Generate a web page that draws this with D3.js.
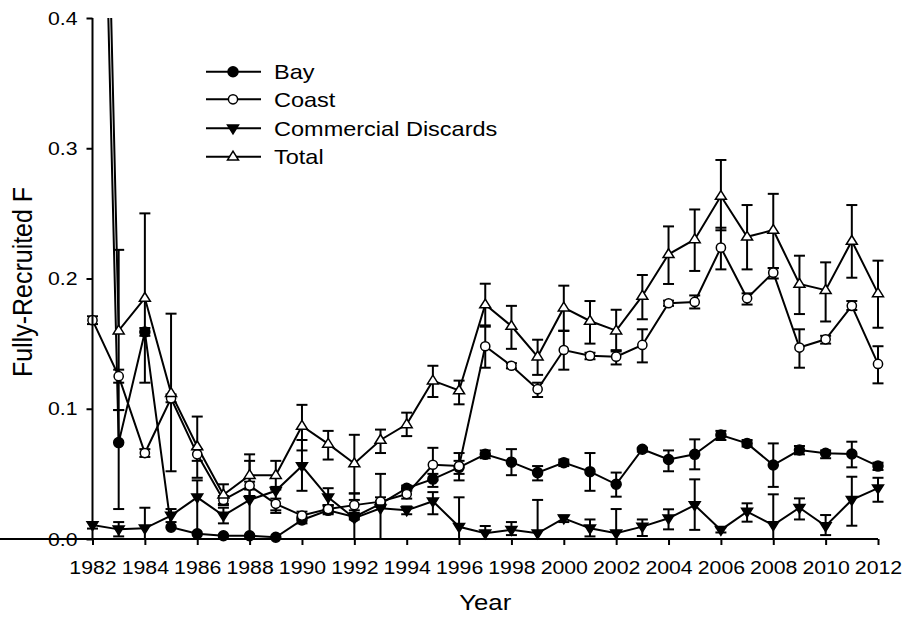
<!DOCTYPE html>
<html>
<head>
<meta charset="utf-8">
<script src="https://cdn.jsdelivr.net/npm/d3@7/dist/d3.min.js"></script>
<style>
  html, body { margin: 0; padding: 0; background: #fff; }
  text { font-family: "Liberation Sans", Arial, sans-serif; fill: #000; }
</style>
</head>
<body>
<svg id="chart" width="903" height="622"></svg>
<script>
const years = d3.range(1982, 2013);
const xTickYears = d3.range(1982, 2013, 2);
const yTicks = [0.0, 0.1, 0.2, 0.3, 0.4];

const seriesNames = ["Bay", "Coast", "Commercial Discards", "Total"];

const bayValues = [0.90, 0.074, 0.159, 0.009, 0.004, 0.0025, 0.0025, 0.0013, 0.0146, 0.022,
  0.017, 0.027, 0.039, 0.046, 0.055, 0.065, 0.059, 0.051, 0.0586, 0.0517,
  0.042, 0.0689, 0.061, 0.065, 0.0798, 0.0734, 0.0568, 0.0683, 0.0658, 0.0653, 0.056];
const bayLow = [null, 0.023, 0.156, null, null, null, null, null, 0.012, 0.020,
  0.015, 0.025, 0.037, 0.040, 0.050, 0.062, 0.049, 0.045, 0.056, 0.037,
  0.0325, 0.067, 0.052, 0.0535, 0.076, 0.071, 0.040, 0.065, 0.062, 0.055, 0.053];
const bayHigh = [null, 0.099, 0.162, null, null, null, null, null, 0.017, 0.025,
  0.020, 0.029, 0.041, 0.050, 0.060, 0.068, 0.069, 0.056, 0.061, 0.066,
  0.051, 0.070, 0.068, 0.0765, 0.083, 0.076, 0.0734, 0.0714, 0.068, 0.0747, 0.0586];

const coastValues = [0.168, 0.125, 0.066, 0.108, 0.065, 0.030, 0.041, 0.027, 0.018, 0.023,
  0.026, 0.0287, 0.0345, 0.057, 0.056, 0.148, 0.133, 0.115, 0.1451, 0.1407,
  0.140, 0.149, 0.181, 0.182, 0.2237, 0.1848, 0.2045, 0.147, 0.1533, 0.179, 0.1344];
const coastLow = [0.165, 0.120, 0.063, 0.105, 0.060, 0.027, 0.038, 0.022, 0.016, 0.019,
  0.022, 0.025, 0.031, 0.045, 0.045, 0.1315, 0.131, 0.109, 0.130, 0.138,
  0.134, 0.1356, 0.179, 0.177, 0.207, 0.180, 0.200, 0.1315, 0.150, 0.1758, 0.1195];
const coastHigh = [0.171, 0.130, 0.069, 0.111, 0.069, 0.033, 0.044, 0.031, 0.021, 0.026,
  0.030, 0.032, 0.038, 0.070, 0.066, 0.164, 0.135, 0.120, 0.160, 0.143,
  0.145, 0.161, 0.183, 0.187, 0.239, 0.1886, 0.208, 0.161, 0.156, 0.1827, 0.148];

const commValues = [0.0107, 0.0074, 0.0082, 0.018, 0.032, 0.018, 0.030, 0.037, 0.056, 0.032,
  0.016, 0.0236, 0.022, 0.029, 0.0094, 0.0044, 0.007, 0.0044, 0.0159, 0.0082,
  0.0044, 0.0095, 0.0159, 0.026, 0.007, 0.021, 0.0107, 0.024, 0.010, 0.030, 0.039];
const commLow = [0.008, 0.002, 0.0, 0.013, 0.0, 0.012, 0.0, 0.020, 0.037, 0.026,
  0.0, 0.0, 0.019, 0.019, 0.0, 0.0, 0.003, 0.0, 0.013, 0.002,
  0.0, 0.0023, 0.0074, 0.007, 0.005, 0.0133, 0.0, 0.015, 0.003, 0.0102, 0.0286];
const commHigh = [0.013, 0.013, 0.024, 0.023, 0.045, 0.024, 0.060, 0.040, 0.076, 0.039,
  0.035, 0.050, 0.025, 0.036, 0.032, 0.010, 0.013, 0.030, 0.018, 0.015,
  0.023, 0.015, 0.0228, 0.0458, 0.009, 0.0274, 0.0343, 0.0312, 0.0184, 0.0478, 0.047];

const totalValues = [1.0, 0.160, 0.185, 0.112, 0.071, 0.034, 0.049, 0.049, 0.0868, 0.073,
  0.058, 0.076, 0.088, 0.1216, 0.114, 0.180, 0.1635, 0.140, 0.1776, 0.1674,
  0.160, 0.1866, 0.2186, 0.230, 0.2633, 0.232, 0.2372, 0.1958, 0.191, 0.2288, 0.1886];
const totalLow = [null, 0.099, 0.120, 0.052, 0.047, 0.026, 0.033, 0.038, 0.068, 0.061,
  0.035, 0.066, 0.079, 0.109, 0.1034, 0.163, 0.146, 0.126, 0.1597, 0.150,
  0.144, 0.1687, 0.1958, 0.2058, 0.237, 0.207, 0.208, 0.1727, 0.167, 0.2006, 0.1622];
const totalHigh = [null, 0.222, 0.250, 0.173, 0.094, 0.042, 0.065, 0.060, 0.103, 0.083,
  0.080, 0.084, 0.097, 0.133, 0.1216, 0.196, 0.179, 0.153, 0.1945, 0.1827,
  0.176, 0.2027, 0.240, 0.253, 0.291, 0.2564, 0.265, 0.2175, 0.2124, 0.2564, 0.2137];

const xLabel = "Year";
const yLabel = "Fully-Recruited F";

// ---------- build ----------
const series = [
  { name: seriesNames[0], values: bayValues, low: bayLow, high: bayHigh, marker: "circle", fill: "#000" },
  { name: seriesNames[1], values: coastValues, low: coastLow, high: coastHigh, marker: "circle", fill: "#fff" },
  { name: seriesNames[2], values: commValues, low: commLow, high: commHigh, marker: "down", fill: "#000" },
  { name: seriesNames[3], values: totalValues, low: totalLow, high: totalHigh, marker: "up", fill: "#fff" }
];

const STRETCH = 1.12; // horizontal stretch of the original text

const svg = d3.select("#chart");
const x = d3.scaleLinear().domain([1982, 2012]).range([92.5, 878]);
const y = d3.scaleLinear().domain([0, 0.4]).range([539, 18]);

svg.append("defs").append("clipPath").attr("id", "plotclip")
  .append("rect").attr("x", 80).attr("y", y(0.4)).attr("width", 820).attr("height", y(0) - y(0.4) + 10);

const plot = svg.append("g").attr("clip-path", "url(#plotclip)");

function markerPath(type, size) {
  const s = size;
  if (type === "down") return `M${-s},${-s * 0.6}L${s},${-s * 0.6}L0,${s * 1.0}Z`;
  if (type === "up") return `M${-s},${s * 0.6}L${s},${s * 0.6}L0,${-s * 1.0}Z`;
  return null;
}

// error bars
series.forEach(s => {
  const g = plot.append("g");
  years.forEach((yr, i) => {
    const lo = s.low[i], hi = s.high[i];
    if (lo === null || hi === null) return;
    const cx = x(yr);
    g.append("line").attr("x1", cx).attr("x2", cx).attr("y1", y(lo)).attr("y2", y(hi))
      .attr("stroke", "#000").attr("stroke-width", 2);
    [lo, hi].forEach(v => {
      if (v <= 0) return;
      g.append("line").attr("x1", cx - 5.5).attr("x2", cx + 5.5).attr("y1", y(v)).attr("y2", y(v))
        .attr("stroke", "#000").attr("stroke-width", 2);
    });
  });
});

// lines
const line = d3.line().x((d, i) => x(years[i])).y(d => y(d));
series.forEach(s => {
  plot.append("path").datum(s.values).attr("d", line)
    .attr("fill", "none").attr("stroke", "#000").attr("stroke-width", 2);
});

// markers
function drawMarker(g, s, cx, cy) {
  if (s.marker === "circle") {
    g.append("circle").attr("cx", cx).attr("cy", cy).attr("r", s.fill === "#000" ? 5 : 4.6)
      .attr("fill", s.fill).attr("stroke", "#000").attr("stroke-width", 1.5);
  } else {
    g.append("path").attr("d", markerPath(s.marker, 5.5)).attr("transform", `translate(${cx},${cy})`)
      .attr("fill", s.fill).attr("stroke", "#000").attr("stroke-width", 1.5);
  }
}
series.forEach(s => {
  const g = plot.append("g");
  years.forEach((yr, i) => {
    const v = s.values[i];
    if (v > 0.4) return;
    drawMarker(g, s, x(yr), y(v));
  });
});

// axes
const xAxis = d3.axisBottom(x).tickValues(xTickYears).tickFormat(d3.format("d")).tickSizeOuter(0).tickSize(6).tickPadding(16);
const yAxis = d3.axisLeft(y).tickValues(yTicks).tickFormat(d3.format(".1f")).tickSizeOuter(0).tickSize(6).tickPadding(9);

const gx = svg.append("g").attr("transform", `translate(0,${y(0)})`).call(xAxis);
const gy = svg.append("g").attr("transform", `translate(${x(1982)},0)`).call(yAxis);
[gx, gy].forEach(g => {
  g.attr("font-size", null).attr("font-family", null);
  g.select(".domain").attr("stroke", "#000").attr("stroke-width", 2);
  g.selectAll(".tick line").attr("stroke", "#000").attr("stroke-width", 2);
  g.selectAll(".tick text").attr("font-size", 19).attr("fill", "#000");
});
gx.selectAll(".tick text").attr("transform", `scale(${STRETCH},1)`);
gy.selectAll(".tick text").attr("x", -15 / STRETCH).attr("transform", `scale(${STRETCH},1)`);
gy.select(".domain").attr("d", `M0,${y(0) + 1}V${y(0.4)}`);
gx.select(".domain").attr("d", `M0,0H${x(2012)}`);

svg.append("text").attr("transform", `translate(${(x(1982) + x(2012)) / 2},610) scale(${STRETCH},1)`)
  .attr("text-anchor", "middle").attr("font-size", 23).text(xLabel);
svg.append("text").attr("transform", `translate(32,282) scale(${STRETCH},1) rotate(-90)`)
  .attr("text-anchor", "middle").attr("font-size", 25).text(yLabel);

// legend
const legendY = [71.7, 99.3, 128.3, 156.7];
const lg = svg.append("g");
series.forEach((s, i) => {
  const ly = legendY[i];
  lg.append("line").attr("x1", 206).attr("x2", 261).attr("y1", ly).attr("y2", ly)
    .attr("stroke", "#000").attr("stroke-width", 2);
  drawMarker(lg, s, 233, ly);
  lg.append("text").attr("transform", `translate(274,${ly}) scale(${STRETCH},1)`).attr("dy", "0.36em")
    .attr("font-size", 21).text(s.name);
});
</script>
</body>
</html>
